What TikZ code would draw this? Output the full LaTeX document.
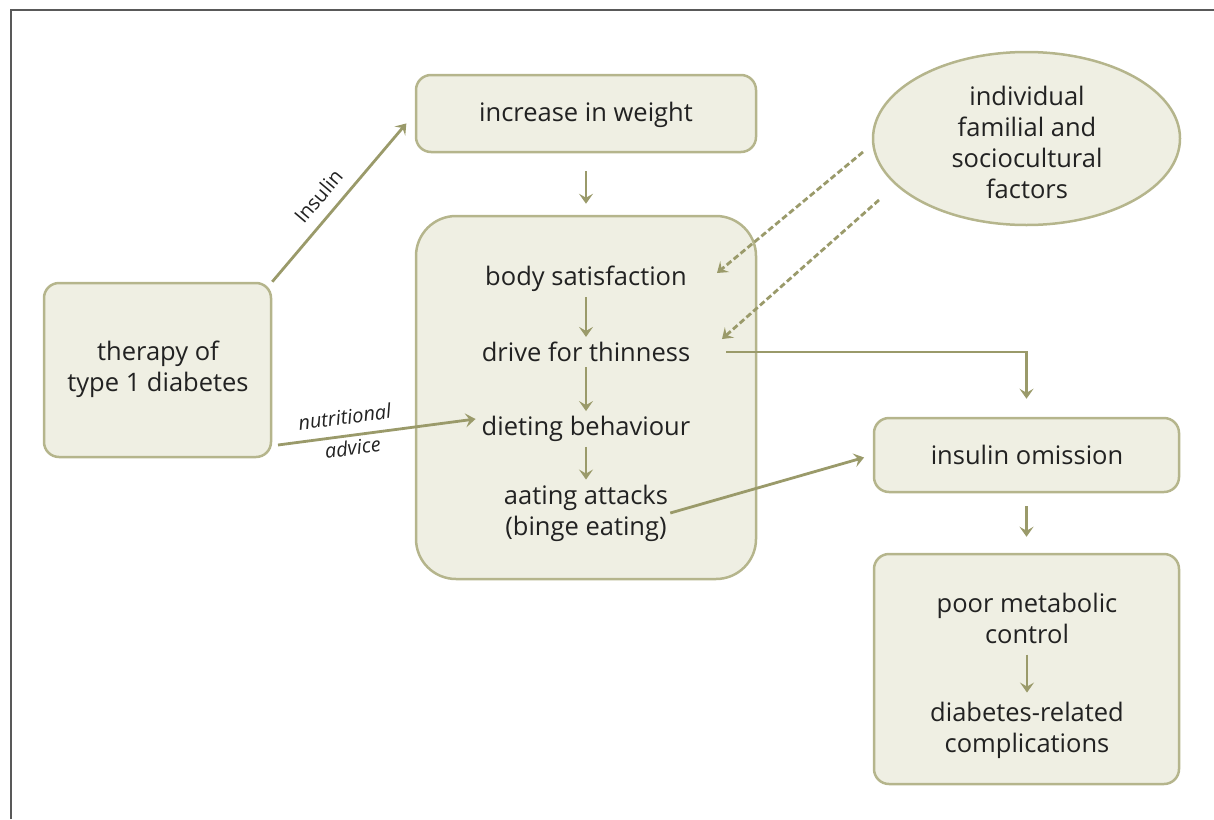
\documentclass[tikz,border=0pt]{standalone}
\usepackage{fontspec}
\setmainfont{Open Sans}
\usetikzlibrary{arrows.meta,shapes.geometric,calc}

\definecolor{boxfill}{HTML}{EFEFE3}
\definecolor{boxline}{HTML}{B5B58C}
\definecolor{flowcol}{HTML}{9A9A6A}
\definecolor{txtcol}{HTML}{222222}

\tikzset{
  box/.style={draw=boxline, fill=boxfill, line width=2.5pt, rounded corners=15pt, align=center},
  oval/.style={ellipse, draw=boxline, fill=boxfill, line width=2.5pt, align=center, inner sep=0pt},
  txt/.style={font=\fontsize{25.5}{31}\selectfont, text=txtcol, align=center, inner sep=2pt},
  note/.style={font=\fontsize{20}{24}\selectfont\itshape, text=txtcol, inner sep=0pt},
  notert/.style={note, font=\fontsize{20}{24}\selectfont\upshape},
  flow/.style={draw=flowcol, line width=2.8pt, -{Stealth[length=10pt,width=14pt,inset=4pt]}},
  dashflow/.style={flow, dash pattern=on 6pt off 3pt}
}

\begin{document}
\begin{tikzpicture}[x=1pt, y=-1pt]
\useasboundingbox (0,0) rectangle (1214,819);
\draw[line width=2pt, color=black!65] (11,819) -- (11,10) -- (1214,10);

% boxes
\node (incw) [box, minimum width=340pt, minimum height=77pt] at (586,113.5) {};
\node (big) [box, rounded corners=40pt, minimum width=340pt, minimum height=363pt] at (586,397.5) {};
\node (ther) [box, minimum width=227pt, minimum height=174pt] at (157.5,370) {};
\node (fac) [oval, minimum width=307pt, minimum height=173pt] at (1026.5,138.5) {};
\node (om) [box, minimum width=305pt, minimum height=74pt] at (1026.5,455) {};
\node (pmc) [box, minimum width=305pt, minimum height=230pt] at (1026.5,669) {};

% texts
\node (incwt) [txt] at (586,115) {increase in weight};
\node (thert) [txt] at (158,369) {therapy of\\type 1 diabetes};
\node (fact) [txt] at (1027,142) {individual\\familial and\\sociocultural\\factors};
\node (bs) [txt] at (586,279) {body satisfaction};
\node (dft) [txt] at (586,352) {drive for thinness};
\node (db) [txt] at (586,429) {dieting behaviour};
\node (aa) [txt] at (586,513) {aating attacks\\(binge eating)};
\node (omt) [txt] at (1027,455) {insulin omission};
\node (pm) [txt] at (1027,618) {poor metabolic\\control};
\node (drc) [txt] at (1027,730) {diabetes-related\\complications};

% arrows
\draw[flow, shorten <=18pt, shorten >=11pt] (incw.south) -- (big.north);
\draw[flow, shorten <=3pt, shorten >=3pt] (bs) -- (dft);
\draw[flow, shorten <=3pt, shorten >=3pt] (dft) -- (db);
\draw[flow, shorten <=3pt, shorten >=3pt] (db) -- (aa);
\draw[flow, shorten <=9pt, shorten >=7pt] (pm) -- (drc);
\draw[flow, shorten <=13pt, shorten >=16pt] (om.south) -- (pmc.north);

\draw[flow, shorten >=13pt] (ther.north east) -- (incw.west)
  node[notert, pos=0.43, sloped, above=11pt] {Insulin};
\coordinate (na) at (278,445);
\draw[flow] (na) -- ($(db.west)+(-4,-10)$)
  node[note, pos=0.35, sloped, above=10pt] {nutritional}
  node[note, pos=0.37, sloped, below=3pt] {advice};
\draw[flow, shorten >=9pt] (aa.east) -- (om.west);
\draw[flow, shorten <=34pt, shorten >=18pt] (dft.east) -| (om.north);

\coordinate (f1) at (863,152);
\coordinate (f2) at (879,200);
\coordinate (b1) at (717,273);
\coordinate (b2) at (722,339);
\draw[dashflow] (f1) -- (b1);
\draw[dashflow] (f2) -- (b2);
\end{tikzpicture}
\end{document}
